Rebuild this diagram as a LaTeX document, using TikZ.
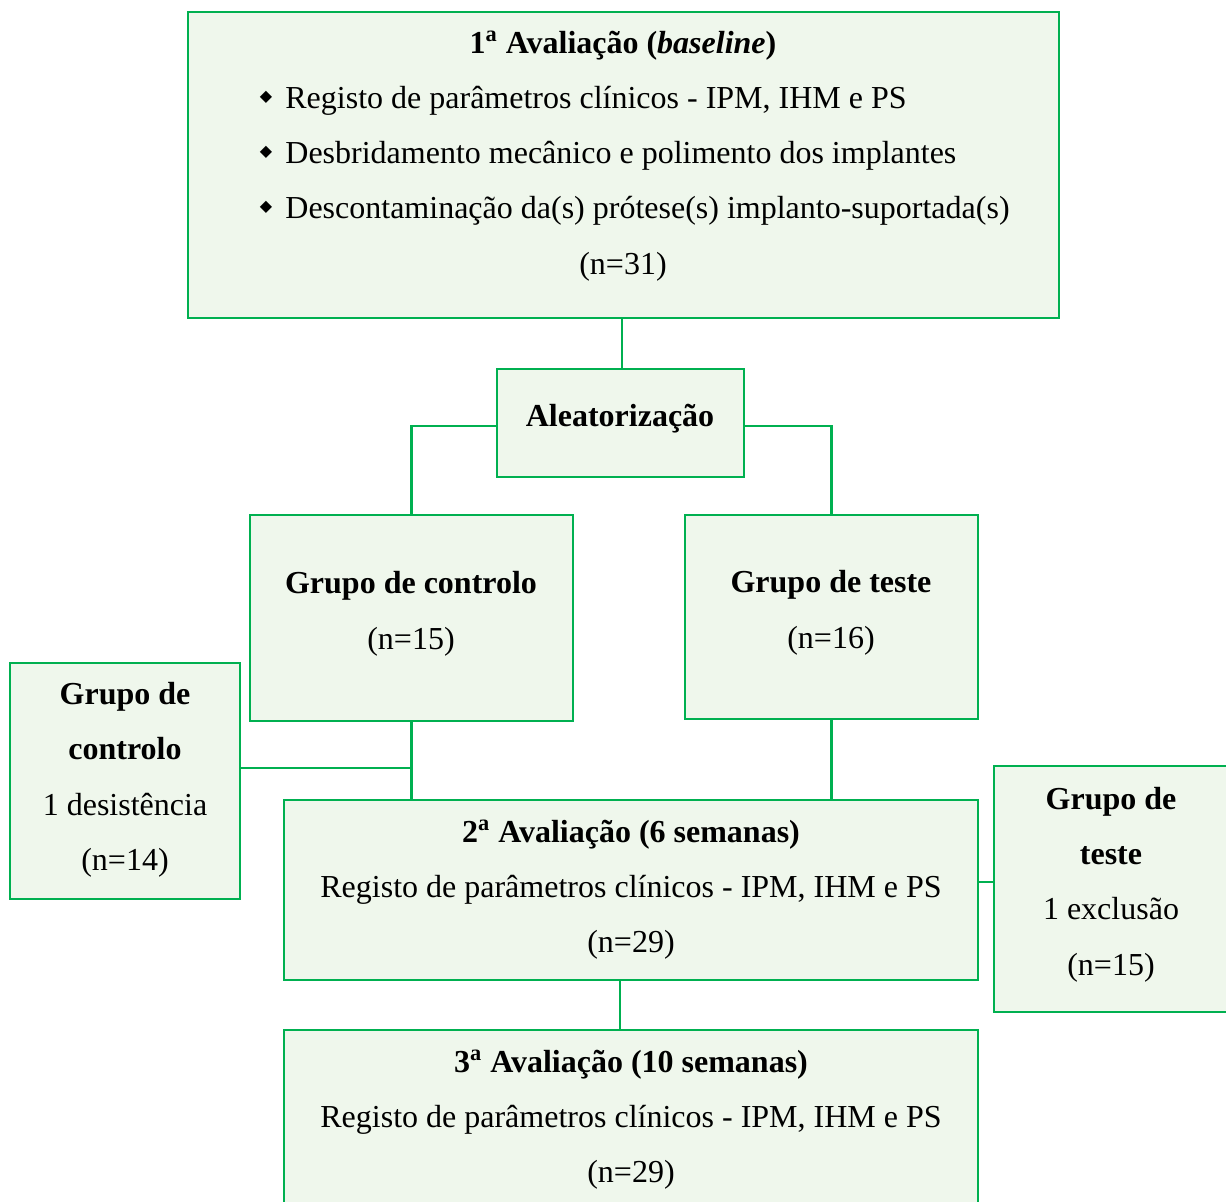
\documentclass[tikz,border=0pt]{standalone}
\usepackage{fontspec}
\setmainfont{Liberation Serif}
\newfontfamily\dejavu{DejaVu Sans}
\definecolor{gline}{HTML}{00B050}
\definecolor{gfill}{HTML}{EFF7EC}
\newcommand{\bxat}[5]{\node[box, minimum width={(#4-#2)*0.5pt}, minimum height={(#5-#3)*0.5pt}] (#1) at ({(#2+#4)/2},{(#3+#5)/2}) {};}
\begin{document}
\begin{tikzpicture}[x=0.5pt,y=-0.5pt,
  box/.style={draw=gline, fill=gfill, line width=1.4pt, inner sep=0pt, outer sep=0pt},
  conn/.style={draw=gline, line width=1.4pt},
  txt/.style={font=\fontsize{16}{19}\selectfont, inner sep=0pt, anchor=mid, yshift=-3pt},
  txtl/.style={txt, anchor=mid west},
  bul/.style={font=\dejavu\fontsize{8}{8}\selectfont, inner sep=0pt}]
\useasboundingbox (0,0) rectangle (1226,1202);
\bxat{top}{188}{12}{1059}{318}
\bxat{ale}{497}{369}{744}{477}
\bxat{gc}{250}{515}{573}{721}
\bxat{gt}{685}{515}{978}{719}
\bxat{lc}{10}{663}{240}{899}
\bxat{ev2}{284}{800}{978}{980}
\bxat{rt}{994}{766}{1230}{1012}
\bxat{ev3}{284}{1030}{978}{1212}
% connectors
\coordinate (c1) at (622,0);
\coordinate (c2) at (0,426);
\coordinate (j1) at (411,768);
\coordinate (c3) at (0,882);
\coordinate (c4) at (620,0);
\draw[conn] (top.south -| c1) -- (ale.north -| c1);
\draw[conn] (ale.west |- c2) -| (gc.north);
\draw[conn] (ale.east |- c2) -| (gt.north);
\draw[conn] (gc.south) -- (gc.south |- ev2.north);
\draw[conn] (lc.east |- j1) -- (j1);
\draw[conn] (gt.south) -- (gt.south |- ev2.north);
\draw[conn] (ev2.east |- c3) -- (rt.west |- c3);
\draw[conn] (ev2.south -| c4) -- (ev3.north -| c4);
% texts top
\node[txt] (t1) at (623,43) {\textbf{1\textsuperscript{a} Avaliação (\textit{baseline})}};
\node[bul] (b1) at (266,97) {◆};
\node[bul] (b2) at (266,152) {◆};
\node[bul] (b3) at (266,207) {◆};
\node[txtl] (t2) at (285,98) {Registo de parâmetros clínicos - IPM, IHM e PS};
\node[txtl] (t3) at (285,153) {Desbridamento mecânico e polimento dos implantes};
\node[txtl] (t4) at (285,208) {Descontaminação da(s) prótese(s) implanto-suportada(s)};
\node[txt] (t5) at (623,264) {(n=31)};
\node[txt] (t6) at (620,416) {\textbf{Aleatorização}};
\node[txt] (t7) at (411,583) {\textbf{Grupo de controlo}};
\node[txt] (t8) at (411,639) {(n=15)};
\node[txt] (t9) at (831,582) {\textbf{Grupo de teste}};
\node[txt] (t10) at (831,638) {(n=16)};
\node[txt] (t11) at (125,694) {\textbf{Grupo de}};
\node[txt] (t12) at (125,749) {\textbf{controlo}};
\node[txt] (t13) at (125,805) {1 desistência};
\node[txt] (t14) at (125,860) {(n=14)};
\node[txt] (t15) at (631,832) {\textbf{2\textsuperscript{a} Avaliação (6 semanas)}};
\node[txt] (t16) at (631,887) {Registo de parâmetros clínicos - IPM, IHM e PS};
\node[txt] (t17) at (631,942) {(n=29)};
\node[txt] (t18) at (1111,799) {\textbf{Grupo de}};
\node[txt] (t19) at (1111,854) {\textbf{teste}};
\node[txt] (t20) at (1111,909) {1 exclusão};
\node[txt] (t21) at (1111,965) {(n=15)};
\node[txt] (t22) at (631,1062) {\textbf{3\textsuperscript{a} Avaliação (10 semanas)}};
\node[txt] (t23) at (631,1117) {Registo de parâmetros clínicos - IPM, IHM e PS};
\node[txt] (t24) at (631,1172) {(n=29)};
\end{tikzpicture}
\end{document}
